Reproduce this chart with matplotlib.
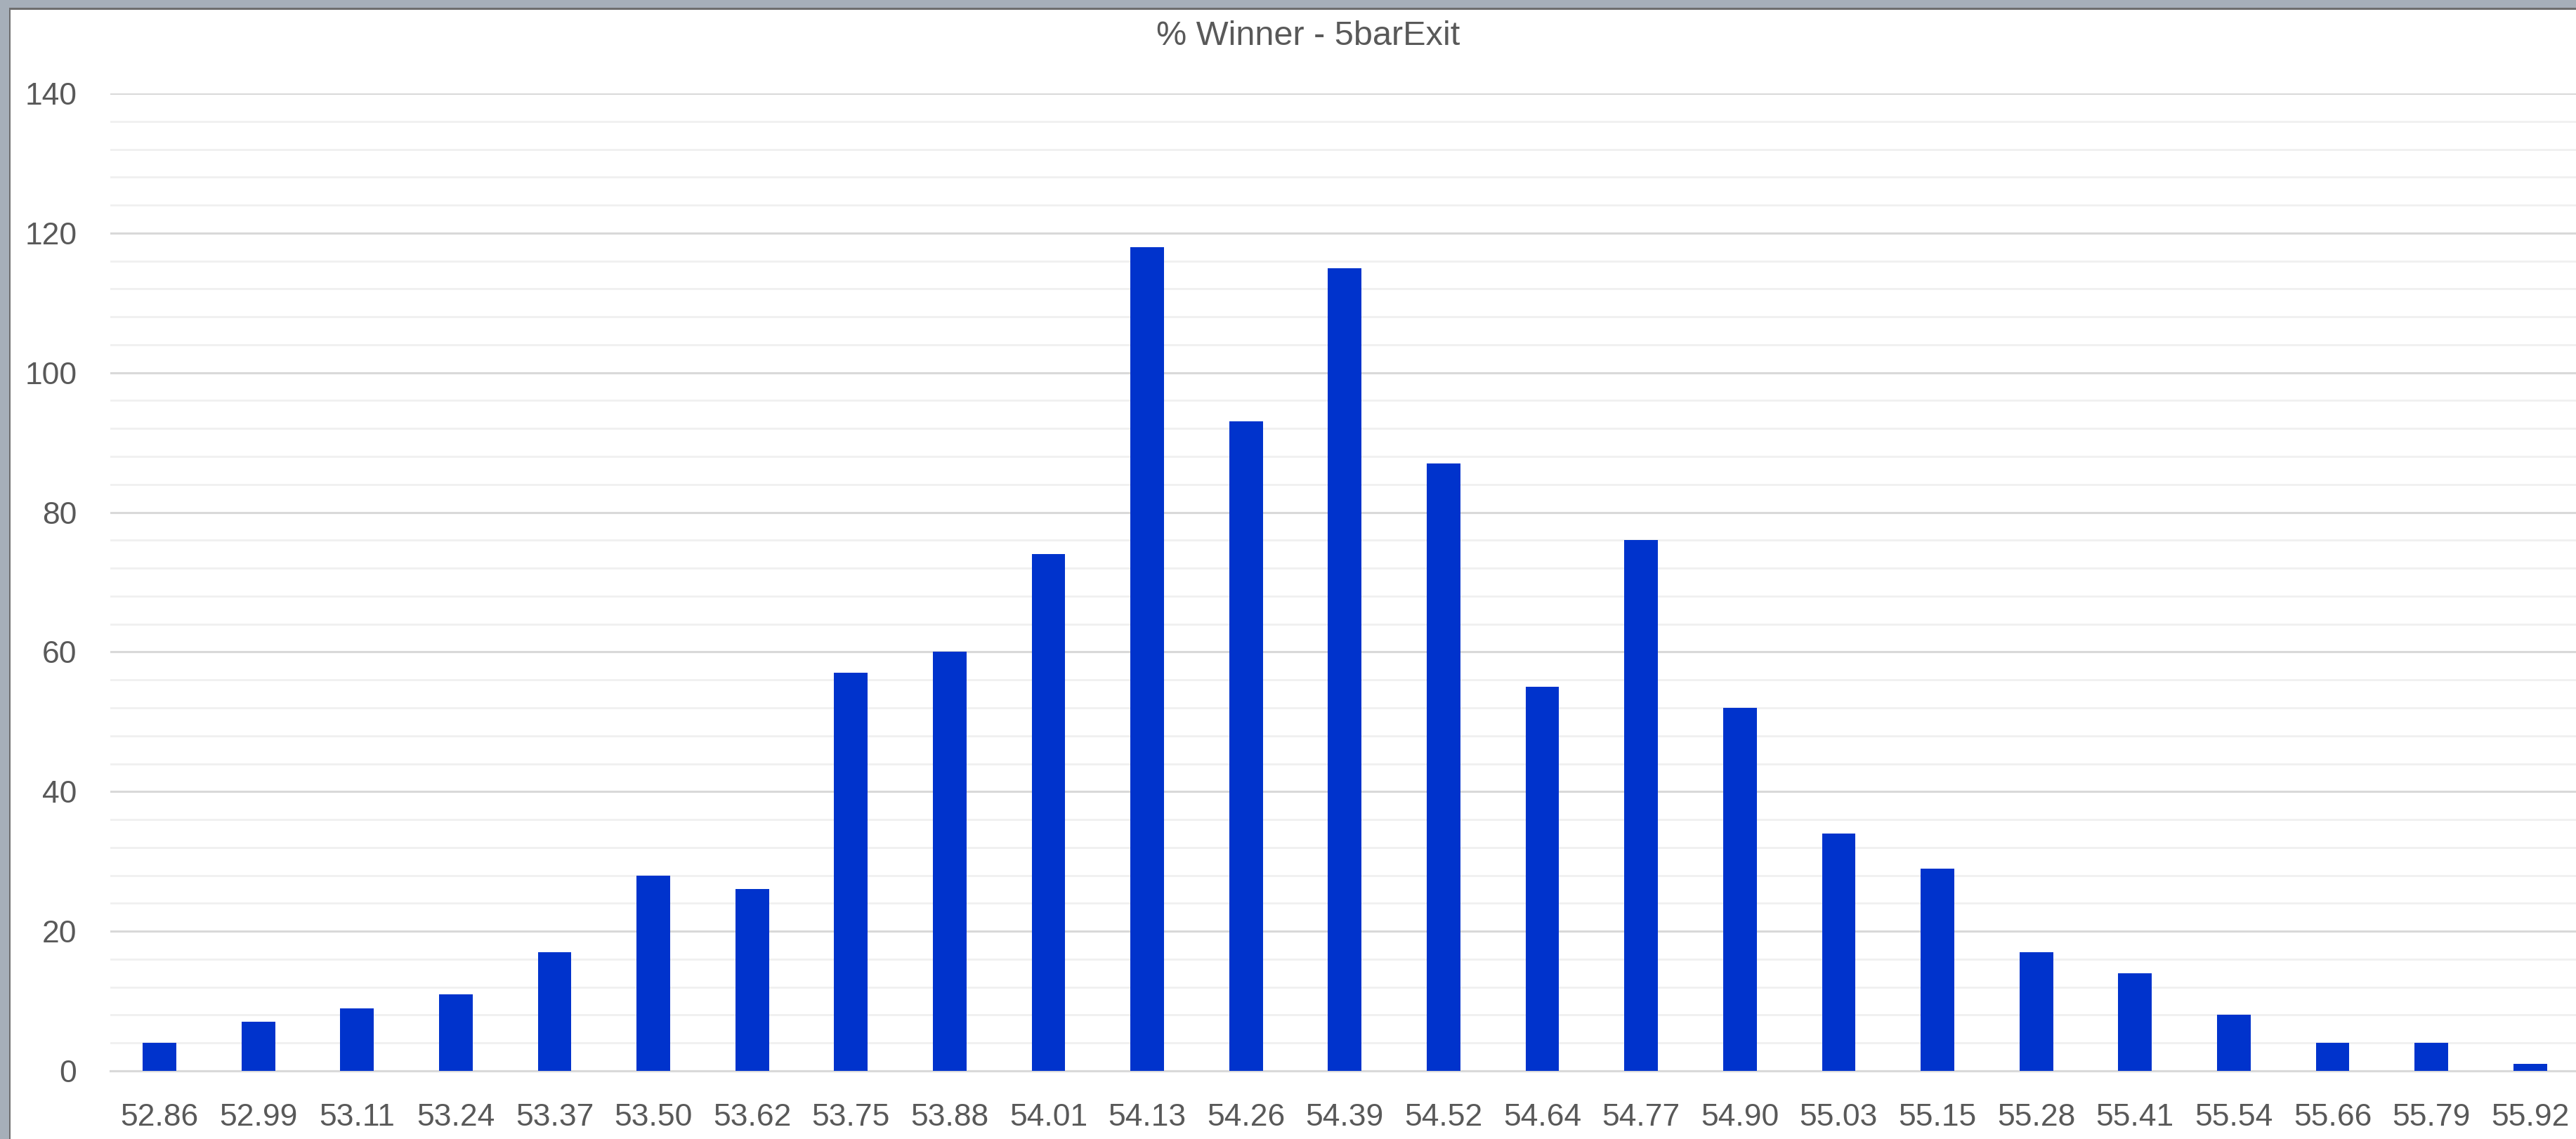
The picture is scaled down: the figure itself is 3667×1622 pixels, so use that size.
import matplotlib
matplotlib.use("Agg")
import matplotlib.pyplot as plt
from matplotlib.patches import Rectangle
from matplotlib.ticker import MultipleLocator

categories = ["52.86", "52.99", "53.11", "53.24", "53.37", "53.50", "53.62", "53.75",
              "53.88", "54.01", "54.13", "54.26", "54.39", "54.52", "54.64", "54.77",
              "54.90", "55.03", "55.15", "55.28", "55.41", "55.54", "55.66", "55.79",
              "55.92"]
counts = [4, 7, 9, 11, 17, 28, 26, 57, 60, 74, 118, 93, 115, 87, 55, 76, 52, 34,
          29, 17, 14, 8, 4, 4, 1]
title = "% Winner - 5barExit"

plt.rcParams['font.family'] = ['Liberation Sans Narrow', 'Liberation Sans', 'DejaVu Sans']

W, H = 3667, 1622
fig = plt.figure(figsize=(W / 100, H / 100), dpi=100, facecolor="white")

# window frame (gray bands top/left)
fig.patches.append(Rectangle((0, 1 - 12 / H), 1, 12 / H, transform=fig.transFigure,
                             facecolor="#A6AFB9", edgecolor="none", zorder=0))
fig.patches.append(Rectangle((0, 1 - 14 / H), 1, 2.5 / H, transform=fig.transFigure,
                             facecolor="#6E6E6E", edgecolor="none", zorder=0))
fig.patches.append(Rectangle((0, 0), 13 / W, 1, transform=fig.transFigure,
                             facecolor="#A6AFB9", edgecolor="none", zorder=0))
fig.patches.append(Rectangle((13 / W, 0), 2.5 / W, 1 - 12 / H, transform=fig.transFigure,
                             facecolor="#6E6E6E", edgecolor="none", zorder=0))

left = 156.7 / W
right = 3672 / W
bottom = 1 - 1525 / H
top = 1 - 133 / H
ax = fig.add_axes([left, bottom, right - left, top - bottom])

x = list(range(len(categories)))
ax.bar(x, counts, width=0.34, color="#0033CC", zorder=3)

ax.set_xlim(-0.5, len(categories) - 0.5)
ax.set_ylim(0, 140)
ax.set_xticks(x)
ax.set_xticklabels(categories)
ax.yaxis.set_major_locator(MultipleLocator(20))
ax.yaxis.set_minor_locator(MultipleLocator(4))

ax.grid(axis="y", which="major", color="#D9D9D9", linewidth=2.2, zorder=0)
ax.grid(axis="y", which="minor", color="#F0F0F0", linewidth=2.0, zorder=0)
ax.set_axisbelow(True)

for s in ["top", "right", "left"]:
    ax.spines[s].set_visible(False)
ax.spines["bottom"].set_color("#D9D9D9")
ax.spines["bottom"].set_linewidth(2.2)

ax.tick_params(axis="both", which="both", length=0, colors="#595959", labelsize=32)
ax.tick_params(axis="x", pad=33)
ax.tick_params(axis="y", pad=34)

fig.text(1862 / W, 1 - 52 / H, title, ha="center", va="center", fontsize=35, color="#595959")

fig.savefig("out.png", dpi=100, facecolor="white")
